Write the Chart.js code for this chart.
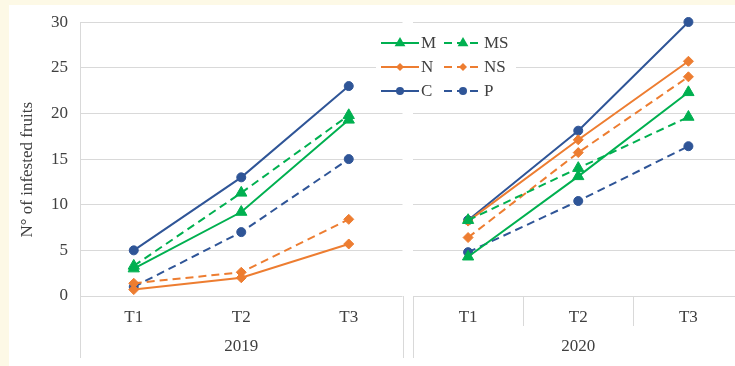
<!DOCTYPE html>
<html>
<head>
<meta charset="utf-8">
<script src="https://cdn.jsdelivr.net/npm/chart.js@4"></script>
<style>
  html, body { margin: 0; padding: 0; overflow: hidden; background: #fdf9e6; }
  #wrap { position: absolute; left: 9px; top: 5px; width: 740px; height: 361px; background: #fff; }
  #c2019 { position: absolute; left: 1px; top: -5px; }
  #c2020 { position: absolute; left: 361px; top: 0; }
</style>
</head>
<body>
<div id="wrap">
  <canvas id="c2019" width="400" height="360"></canvas>
  <canvas id="c2020" width="381" height="355"></canvas>
</div>
<script>
// categories and values
var times = ['T1', 'T2', 'T3'];
var seriesNames = ['M', 'MS', 'N', 'NS', 'C', 'P'];
var yTicks = [0, 5, 10, 15, 20, 25, 30];

var m2019  = [3.0, 9.2, 19.3];
var ms2019 = [3.3, 11.3, 19.8];
var n2019  = [0.7, 2.0, 5.7];
var ns2019 = [1.4, 2.6, 8.4];
var c2019  = [5.0, 13.0, 23.0];
var p2019  = [1.0, 7.0, 15.0];

var m2020  = [4.3, 13.1, 22.3];
var ms2020 = [8.3, 14.0, 19.6];
var n2020  = [8.2, 17.1, 25.7];
var ns2020 = [6.4, 15.7, 24.0];
var c2020  = [8.3, 18.1, 30.0];
var p2020  = [4.8, 10.4, 16.4];

var green = '#00b050', orange = '#ed7d31', blue = '#2f5597';
var gridColor = '#d9d9d9', textColor = '#404040';
var serif = 'Liberation Serif';

function makeSets(vals) {
  var styles = [
    [green, 'triangle', 6.5, false],
    [green, 'triangle', 6.5, true],
    [orange, 'rectRot', 5, false],
    [orange, 'rectRot', 5, true],
    [blue, 'circle', 4.5, false],
    [blue, 'circle', 4.5, true]
  ];
  return vals.map(function (v, i) {
    var s = styles[i];
    return {
      label: seriesNames[i],
      data: v,
      borderColor: s[0],
      backgroundColor: s[0],
      pointBackgroundColor: s[0],
      pointBorderColor: s[0],
      pointStyle: s[1],
      pointRadius: s[2],
      pointBorderWidth: 1,
      borderWidth: 2,
      borderDash: s[3] ? [8, 5] : [],
      tension: 0,
      clip: false
    };
  });
}

// vertical separators in the category band under the plot
var axisLines = {
  id: 'axisLines',
  afterDraw: function (chart, args, opts) {
    var ctx = chart.ctx, a = chart.chartArea, x = chart.scales.x;
    var bottom = chart.height - 2;
    ctx.save();
    ctx.strokeStyle = gridColor;
    ctx.lineWidth = 1;
    ctx.beginPath();
    opts.full.forEach(function (side) {
      var px = Math.round(side === 'left' ? a.left : a.right) + 0.5;
      ctx.moveTo(px, side === 'left' && opts.border ? a.top : a.bottom);
      ctx.lineTo(px, bottom);
    });
    if (opts.inner) {
      for (var i = 1; i < times.length; i++) {
        var px = Math.round((x.getPixelForValue(i - 1) + x.getPixelForValue(i)) / 2) + 0.5;
        ctx.moveTo(px, a.bottom);
        ctx.lineTo(px, a.bottom + 30);
      }
    }
    ctx.stroke();
    ctx.restore();
  }
};

function drawMarker(ctx, style, x, y, r) {
  ctx.beginPath();
  if (style === 'circle') {
    ctx.arc(x, y, r, 0, Math.PI * 2);
  } else if (style === 'rectRot') {
    ctx.moveTo(x, y - r); ctx.lineTo(x + r, y); ctx.lineTo(x, y + r); ctx.lineTo(x - r, y);
    ctx.closePath();
  } else {
    ctx.moveTo(x, y - r); ctx.lineTo(x + r * 0.9, y + r * 0.55); ctx.lineTo(x - r * 0.9, y + r * 0.55);
    ctx.closePath();
  }
  ctx.fill();
}

// two-column legend with line + marker samples
var gridLegend = {
  id: 'gridLegend',
  afterDraw: function (chart) {
    var ctx = chart.ctx;
    var x0 = 11, y0 = 38, rowH = 24, colW = 63;
    ctx.save();
    ctx.fillStyle = '#fff';
    ctx.fillRect(x0 - 5, y0 - 12, 140, 62);
    chart.data.datasets.forEach(function (ds, i) {
      var lx = x0 + (i % 2) * colW, ly = y0 + Math.floor(i / 2) * rowH;
      ctx.strokeStyle = ds.borderColor;
      ctx.fillStyle = ds.borderColor;
      ctx.lineWidth = 2;
      ctx.setLineDash(ds.borderDash);
      ctx.beginPath();
      ctx.moveTo(lx, ly); ctx.lineTo(lx + 38, ly);
      ctx.stroke();
      ctx.setLineDash([]);
      drawMarker(ctx, ds.pointStyle, lx + 19, ly, ds.pointStyle === 'triangle' ? 6 : 4);
      ctx.fillStyle = textColor;
      ctx.font = '17px "' + serif + '"';
      ctx.textBaseline = 'middle';
      ctx.fillText(ds.label, lx + 40, ly + 1);
    });
    ctx.restore();
  }
};

function options(year, showY) {
  return {
    responsive: false,
    animation: false,
    layout: { padding: { top: showY ? 7 : 17, bottom: 0, left: showY ? 0 : 43, right: 0 } },
    plugins: {
      legend: { display: false },
      tooltip: { enabled: false },
      axisLines: showY ? { full: ['left', 'right'], inner: false, border: true }
                       : { full: ['left'], inner: true, border: false }
    },
    scales: {
      x: {
        offset: true,
        grid: { display: false },
        border: { display: false },
        ticks: { color: textColor, font: { family: serif, size: 17 }, padding: 3 },
        title: { display: true, text: year, color: textColor, font: { family: serif, size: 17 }, padding: { top: 0, bottom: 3 } },
        afterFit: function (s) { s.height = 64; }
      },
      y: {
        display: showY ? true : 'auto',
        min: 0, max: 30,
        afterBuildTicks: function (s) { s.ticks = yTicks.map(function (v) { return { value: v }; }); },
        grid: { color: gridColor, drawTicks: false },
        border: { display: showY, color: gridColor },
        ticks: { display: showY, color: textColor, font: { family: serif, size: 17 }, padding: 12 },
        title: { display: showY, text: 'N° of infested fruits     ', color: textColor, font: { family: serif, size: 17 }, padding: { top: 7, bottom: 0 } },
        afterFit: function (s) { s.width = showY ? 70 : 0; }
      }
    }
  };
}

new Chart(document.getElementById('c2019'), {
  type: 'line',
  data: { labels: times, datasets: makeSets([m2019, ms2019, n2019, ns2019, c2019, p2019]) },
  options: options('2019', true),
  plugins: [axisLines]
});

new Chart(document.getElementById('c2020'), {
  type: 'line',
  data: { labels: times, datasets: makeSets([m2020, ms2020, n2020, ns2020, c2020, p2020]) },
  options: options('2020', false),
  plugins: [axisLines, gridLegend]
});
</script>
</body>
</html>
